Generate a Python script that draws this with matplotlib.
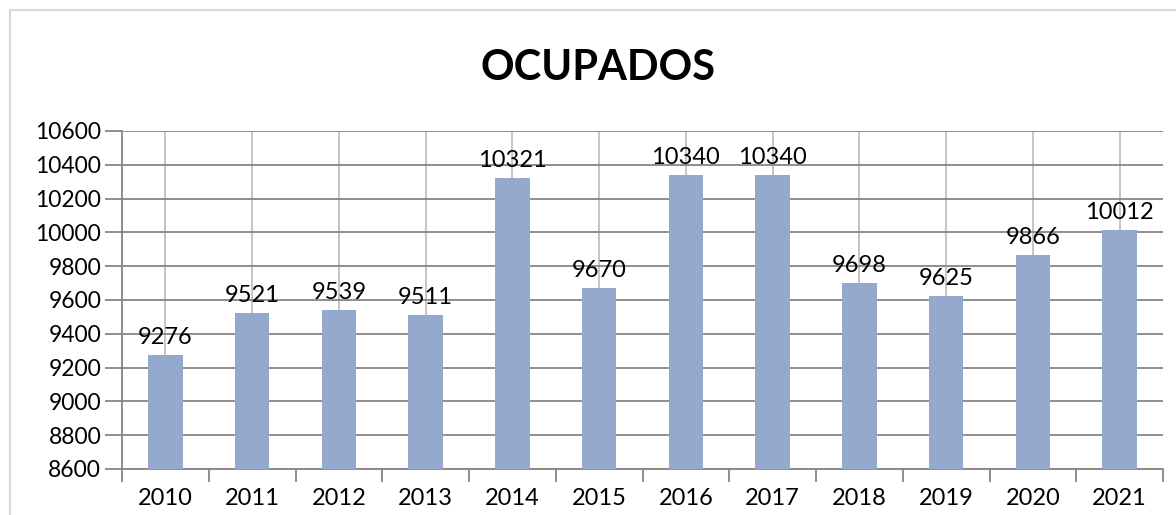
import matplotlib.pyplot as plt
import matplotlib.patches as patches

# Data
years = ['2010', '2011', '2012', '2013', '2014', '2015',
         '2016', '2017', '2018', '2019', '2020', '2021']
ocupados = [9276, 9521, 9539, 9511, 10321, 9670,
            10340, 10340, 9698, 9625, 9866, 10012]
yticks = [8600, 8800, 9000, 9200, 9400, 9600, 9800,
          10000, 10200, 10400, 10600]

plt.rcParams['font.family'] = ['Lato', 'DejaVu Sans']

W, H = 1176, 515
fig = plt.figure(figsize=(W/100, H/100), dpi=100)
ax = fig.add_axes([122/W, 1-469/H, (1163-122)/W, (469-131)/H])

x = list(range(len(years)))
ax.bar(x, [v - yticks[0] for v in ocupados], bottom=yticks[0],
       width=0.40, color='#95A9CF', zorder=3)

for xi, v in zip(x, ocupados):
    ax.annotate(str(v), (xi, v), xytext=(0, 5), textcoords='offset points',
                ha='center', va='bottom', fontsize=17, color='black', zorder=4)

ax.set_xlim(-0.5, len(years) - 0.5)
ax.set_ylim(yticks[0], yticks[-1])
ax.set_yticks(yticks)
ax.set_yticklabels([str(t) for t in yticks], fontsize=16.5)

# category labels at centres, tick marks at boundaries
ax.set_xticks(x)
ax.set_xticklabels(years, fontsize=17)
ax.tick_params(axis='x', length=0, pad=14)
ax.set_xticks([i - 0.5 for i in range(len(years) + 1)], minor=True)
ax.tick_params(axis='x', which='minor', length=9, color='#868686', width=1.3)
ax.tick_params(axis='y', length=12, color='#868686', width=1.3, pad=3)

ax.yaxis.grid(True, color='#868686', linewidth=1.3, zorder=0)
ax.xaxis.grid(True, which='major', color='#C0C0C0', linewidth=1.3, zorder=0)

for s in ['top', 'right']:
    ax.spines[s].set_visible(False)
for s in ['left', 'bottom']:
    ax.spines[s].set_color('#868686')
    ax.spines[s].set_linewidth(1.3)

fig.text(598/W, 1-68/H, 'OCUPADOS', ha='center', va='center',
         fontsize=30, fontweight='bold')

# outer chart frame
fig.patches.append(patches.Rectangle((10/W, -0.1), 1.2, 1-10/H+0.1,
                                     transform=fig.transFigure, fill=False,
                                     edgecolor='#D9D9D9', linewidth=1.5))

fig.savefig('out.png', dpi=100)
